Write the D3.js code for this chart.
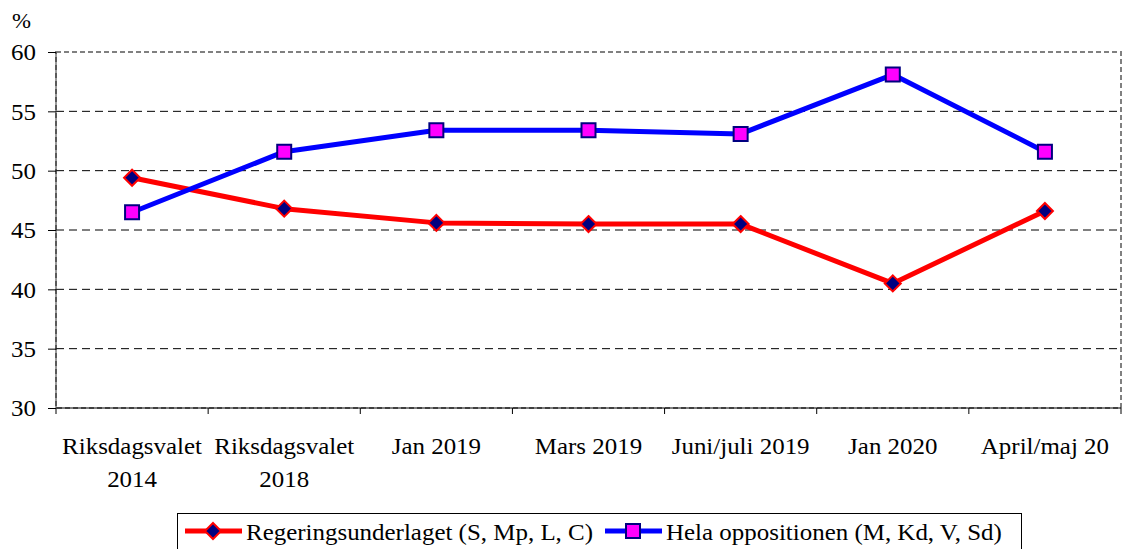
<!DOCTYPE html>
<html>
<head>
<meta charset="utf-8">
<script src="https://cdn.jsdelivr.net/npm/d3@7"></script>
<style>
    body { margin: 0; background: #fff; }
</style>
</head>
<body>
<svg id="chart" width="1123" height="549" font-family="Liberation Serif"></svg>
<script>
// --- data ---
const categories = [
    ["Riksdagsvalet", "2014"],
    ["Riksdagsvalet", "2018"],
    ["Jan 2019"],
    ["Mars 2019"],
    ["Juni/juli 2019"],
    ["Jan 2020"],
    ["April/maj 20"]
];
const regering = [49.4, 46.8, 45.6, 45.5, 45.5, 40.5, 46.6];
const opposition = [46.5, 51.6, 53.4, 53.4, 53.1, 58.1, 51.6];
const yTicks = [30, 35, 40, 45, 50, 55, 60];
const seriesNames = ["Regeringsunderlaget (S, Mp, L, C)", "Hela oppositionen (M, Kd, V, Sd)"];

const FONT = "Liberation Serif";
const SX = 1.085; // the source text is a bit wider than plain Times

// --- layout ---
const plot = { left: 56, right: 1121, top: 52, bottom: 408 };
const svg = d3.select("#chart");

const x = d3.scaleBand()
    .domain(d3.range(categories.length))
    .range([plot.left, plot.right]);

const y = d3.scaleLinear()
    .domain([30, 60])
    .range([plot.bottom, plot.top]);

// gray dashed plot border
svg.append("rect")
    .attr("x", plot.left).attr("y", plot.top)
    .attr("width", plot.right - plot.left).attr("height", plot.bottom - plot.top)
    .attr("fill", "none")
    .attr("stroke", "#808080")
    .attr("stroke-width", 2)
    .attr("stroke-dasharray", "5,3");

// gridlines
svg.append("g")
    .selectAll("line")
    .data(yTicks.filter(d => d > 30 && d < 60))
    .enter()
    .append("line")
    .attr("x1", plot.left).attr("x2", plot.right)
    .attr("y1", d => y(d)).attr("y2", d => y(d))
    .attr("stroke", "#000")
    .attr("stroke-width", 1)
    .attr("stroke-dasharray", "8,5");

// y axis
const yAxis = svg.append("g")
    .attr("transform", `translate(${plot.left},0)`)
    .call(d3.axisLeft(y).tickValues(yTicks).tickSize(8).tickPadding(12));
yAxis.attr("font-family", FONT).attr("font-size", 23);
yAxis.select(".domain").attr("stroke", "#333").attr("d", `M0,${plot.top}V${plot.bottom}`);
yAxis.selectAll(".tick line").attr("stroke", "#000");
yAxis.selectAll(".tick text")
    .attr("x", 0)
    .attr("dy", "0.34em")
    .attr("transform", `translate(-20,0) scale(${SX},1)`);

// x axis, ticks on band edges
const xAxis = svg.append("g")
    .attr("transform", `translate(0,${plot.bottom})`);
xAxis.append("line")
    .attr("x1", plot.left).attr("x2", plot.right)
    .attr("stroke", "#000");
xAxis.selectAll(".xtick")
    .data(d3.range(categories.length + 1))
    .enter()
    .append("line")
    .attr("x1", d => plot.left + d * x.bandwidth())
    .attr("x2", d => plot.left + d * x.bandwidth())
    .attr("y1", 0).attr("y2", 6)
    .attr("stroke", "#000");

const labels = svg.append("g")
    .selectAll("text")
    .data(categories)
    .enter()
    .append("text")
    .attr("text-anchor", "middle")
    .attr("font-family", FONT)
    .attr("font-size", 23)
    .attr("transform", (d, i) => `translate(${x(i) + x.bandwidth() / 2},454) scale(${SX},1)`);
labels.selectAll("tspan")
    .data(d => d)
    .enter()
    .append("tspan")
    .attr("x", 0)
    .attr("dy", (d, i) => i === 0 ? 0 : 33)
    .text(d => d);

// unit label
svg.append("text")
    .attr("transform", `translate(12,28) scale(${SX},1)`)
    .attr("font-family", FONT)
    .attr("font-size", 21)
    .text("%");

// --- lines ---
const cx = i => x(i) + x.bandwidth() / 2;
const line = d3.line()
    .x((d, i) => cx(i))
    .y(d => y(d));

svg.append("path")
    .datum(regering)
    .attr("fill", "none")
    .attr("stroke", "#ff0000")
    .attr("stroke-width", 5)
    .attr("stroke-linejoin", "round")
    .attr("d", line);

svg.append("path")
    .datum(opposition)
    .attr("fill", "none")
    .attr("stroke", "#0000ff")
    .attr("stroke-width", 5)
    .attr("stroke-linejoin", "round")
    .attr("d", line);

const diamond = (sel) => sel
    .attr("d", "M0,-8L8,0L0,8L-8,0Z")
    .attr("fill", "#000080")
    .attr("stroke", "#ff0000")
    .attr("stroke-width", 2);

const square = (sel) => sel
    .attr("d", "M-7,-7H7V7H-7Z")
    .attr("fill", "#ff00ff")
    .attr("stroke", "#000080")
    .attr("stroke-width", 2);

svg.append("g")
    .selectAll("path")
    .data(regering)
    .enter()
    .append("path")
    .attr("transform", (d, i) => `translate(${cx(i)},${y(d)})`)
    .call(diamond);

svg.append("g")
    .selectAll("path")
    .data(opposition)
    .enter()
    .append("path")
    .attr("transform", (d, i) => `translate(${cx(i)},${y(d)})`)
    .call(square);

// --- legend ---
const legend = svg.append("g");
legend.append("rect")
    .attr("x", 177.5).attr("y", 513.5)
    .attr("width", 844).attr("height", 50)
    .attr("fill", "#fff")
    .attr("stroke", "#000")
    .attr("stroke-width", 1);

const legendItems = [
    { name: seriesNames[0], color: "#ff0000", marker: diamond, x0: 185 },
    { name: seriesNames[1], color: "#0000ff", marker: square, x0: 605 }
];
legendItems.forEach(item => {
    legend.append("line")
        .attr("x1", item.x0).attr("x2", item.x0 + 57)
        .attr("y1", 531).attr("y2", 531)
        .attr("stroke", item.color)
        .attr("stroke-width", 5);
    legend.append("path")
        .attr("transform", `translate(${item.x0 + 28},531)`)
        .call(item.marker);
    legend.append("text")
        .attr("transform", `translate(${item.x0 + 61},540) scale(${SX},1)`)
        .attr("font-family", FONT)
        .attr("font-size", 23)
        .text(item.name);
});
</script>
</body>
</html>
